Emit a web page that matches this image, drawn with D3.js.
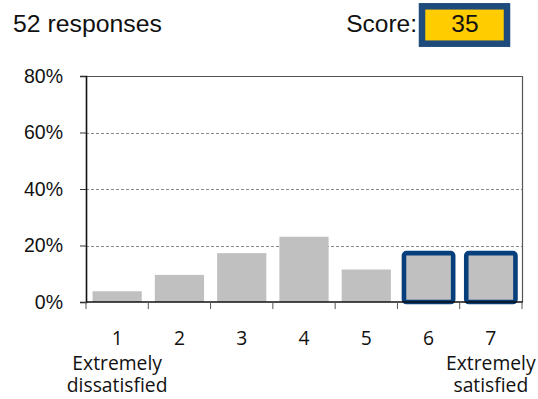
<!DOCTYPE html>
<html>
<head>
<meta charset="utf-8">
<script src="https://cdn.jsdelivr.net/npm/d3@7"></script>
<style>
  html, body { margin: 0; padding: 0; background: #ffffff; }
  svg { display: block; }
</style>
</head>
<body>
<svg id="chart" width="538" height="399"></svg>
<script>
// Satisfaction distribution on a 1–7 scale
const categories = ["1", "2", "3", "4", "5", "6", "7"];
const shares = [3.8, 9.6, 17.3, 23.1, 11.5, 17.3, 17.3];   // % of responses
const highlighted = ["6", "7"];                              // top-two box
const yTicks = [0, 20, 40, 60, 80];
const endLabels = { "1": ["Extremely", "dissatisfied"], "7": ["Extremely", "satisfied"] };
const responseCount = 52;
const score = 35;

const svg = d3.select("#chart");
const plot = { left: 86, right: 522, top: 76, bottom: 302 };

const x = d3.scaleBand()
  .domain(categories)
  .range([plot.left, plot.right])
  .paddingInner(0.21)
  .paddingOuter(0.105);

const xEdges = d3.scaleLinear()
  .domain([0, categories.length])
  .range([plot.left, plot.right]);

const y = d3.scaleLinear()
  .domain([0, 80])
  .range([plot.bottom, plot.top]);

// Header
svg.append("text")
  .attr("x", 13).attr("y", 32)
  .attr("font-family", "Liberation Sans, Arial, sans-serif")
  .attr("font-size", 24.8)
  .attr("fill", "#111")
  .text(`${responseCount} responses`);

svg.append("text")
  .attr("x", 417).attr("y", 32)
  .attr("text-anchor", "end")
  .attr("font-family", "Liberation Sans, Arial, sans-serif")
  .attr("font-size", 24.5)
  .attr("fill", "#111")
  .text("Score:");

svg.append("rect")
  .attr("x", 422).attr("y", 6.3)
  .attr("width", 85).attr("height", 37.4)
  .attr("fill", "#ffcc00")
  .attr("stroke", "#1f4a7c")
  .attr("stroke-width", 6.5);

svg.append("text")
  .attr("x", 465).attr("y", 32)
  .attr("text-anchor", "middle")
  .attr("font-family", "Liberation Sans, Arial, sans-serif")
  .attr("font-size", 24.5)
  .attr("fill", "#111")
  .text(score);

// Gridlines (dashed) inside the plot
svg.append("g")
  .selectAll("line")
  .data(yTicks.filter(d => d > 0 && d < 80))
  .join("line")
  .attr("x1", plot.left).attr("x2", plot.right)
  .attr("y1", d => Math.round(y(d)) + 0.5).attr("y2", d => Math.round(y(d)) + 0.5)
  .attr("stroke", "#8a8a8a")
  .attr("stroke-width", 1)
  .attr("stroke-dasharray", "3,2");

// Frame: top and right edges
svg.append("path")
  .attr("d", `M${plot.left},${plot.top + 0.5}H${plot.right + 0.5}V${plot.bottom}`)
  .attr("fill", "none")
  .attr("stroke", "#555")
  .attr("stroke-width", 1.2);

// Bars
const isHi = d => highlighted.includes(d.cat);
const data = categories.map((c, i) => ({ cat: c, value: shares[i] }));

svg.append("g")
  .selectAll("rect")
  .data(data)
  .join("rect")
  .attr("x", d => x(d.cat))
  .attr("y", d => y(d.value))
  .attr("width", x.bandwidth())
  .attr("height", d => y(0) - y(d.value))
  .attr("fill", "#c0c0c0")
  .attr("rx", d => isHi(d) ? 2.5 : 0)
  .attr("stroke", d => isHi(d) ? "#063f7c" : "none")
  .attr("stroke-width", d => isHi(d) ? 4.6 : 0);

// Y axis
const yAxis = d3.axisLeft(y)
  .tickValues(yTicks)
  .tickFormat(d => d + "%")
  .tickSize(6)
  .tickPadding(17);

const gy = svg.append("g")
  .attr("transform", `translate(${plot.left},0)`)
  .call(yAxis);
gy.select(".domain").attr("stroke", "#111").attr("stroke-width", 1.6);
gy.selectAll(".tick line").attr("stroke", "#333");
gy.selectAll(".tick text")
  .attr("font-family", "Liberation Sans, Arial, sans-serif")
  .attr("font-size", 19.5)
  .attr("fill", "#111");

// X axis baseline with ticks at band edges
svg.append("line")
  .attr("x1", plot.left).attr("x2", plot.right + 1)
  .attr("y1", plot.bottom).attr("y2", plot.bottom)
  .attr("stroke", "#111").attr("stroke-width", 1.6);

svg.append("g")
  .selectAll("line")
  .data(d3.range(categories.length + 1))
  .join("line")
  .attr("x1", d => xEdges(d)).attr("x2", d => xEdges(d))
  .attr("y1", plot.bottom).attr("y2", plot.bottom + 7)
  .attr("stroke", "#555").attr("stroke-width", 1);

// Category labels
const xl = svg.append("g")
  .attr("font-family", "Open Sans, sans-serif")
  .attr("font-size", 19.3)
  .attr("fill", "#111")
  .attr("text-anchor", "middle");

xl.selectAll("text.cat")
  .data(categories)
  .join("text")
  .attr("class", "cat")
  .attr("x", d => x(d) + x.bandwidth() / 2)
  .attr("y", 345)
  .text(d => d);

// Scale-end descriptions, two lines each
Object.entries(endLabels).forEach(([cat, lines]) => {
  const cx = x(cat) + x.bandwidth() / 2;
  const t = xl.append("text").attr("x", cx).attr("y", 370);
  t.selectAll("tspan")
    .data(lines)
    .join("tspan")
    .attr("x", cx)
    .attr("dy", (d, i) => i === 0 ? 0 : 22)
    .text(d => d);
});
</script>
</body>
</html>
